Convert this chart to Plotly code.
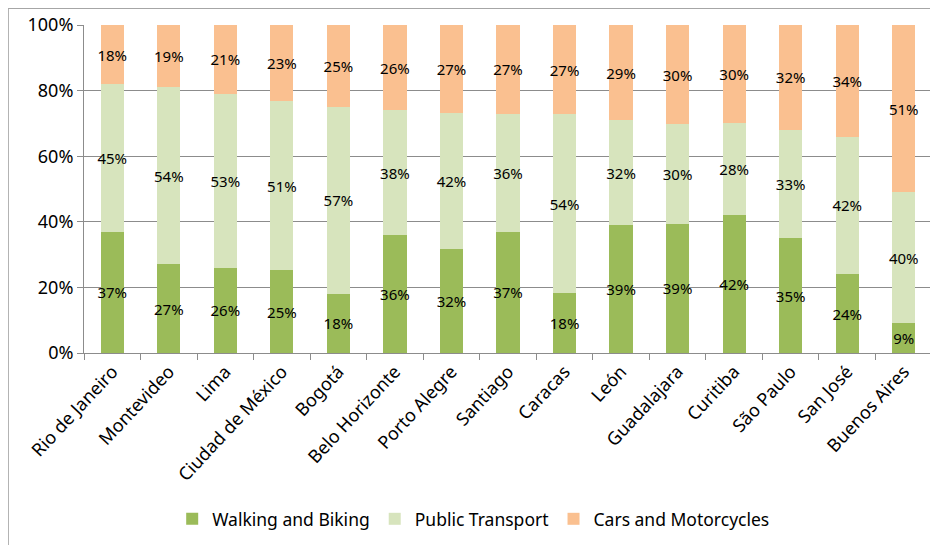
import plotly.graph_objects as go

# Mode share by city (percent labels as shown on the chart)
cities = ["Rio de Janeiro", "Montevideo", "Lima", "Ciudad de México", "Bogotá",
          "Belo Horizonte", "Porto Alegre", "Santiago", "Caracas", "León",
          "Guadalajara", "Curitiba", "São Paulo", "San José", "Buenos Aires"]
walking = [37, 27, 26, 25, 18, 36, 32, 37, 18, 39, 39, 42, 35, 24, 9]
public = [45, 54, 53, 51, 57, 38, 42, 36, 54, 32, 30, 28, 33, 42, 40]
cars = [18, 19, 21, 23, 25, 26, 27, 27, 27, 29, 30, 30, 32, 34, 51]

series = [
    ("Walking and Biking", walking, "#9BBB59"),
    ("Public Transport", public, "#D7E4BD"),
    ("Cars and Motorcycles", cars, "#FAC090"),
]

fig = go.Figure()
for name, vals, color in series:
    fig.add_trace(go.Bar(
        name=name, x=cities, y=vals, marker_color=color, marker_line_width=0,
        text=[f"{v}%" for v in vals], texttemplate="%{text}",
        textposition="inside", insidetextanchor="middle",
        textfont=dict(size=15, color="black"), textangle=0,
        hoverinfo="skip",
    ))

# page has an 8px body margin, so the figure is a bit smaller and shifted
fig.update_layout(
    barmode="stack",
    barnorm="percent",
    bargap=0.59,
    width=930, height=537,
    margin=dict(l=76, r=6, t=17, b=192, autoexpand=False),
    paper_bgcolor="white",
    plot_bgcolor="white",
    font=dict(family="Noto Sans, sans-serif", color="black"),
    uniformtext=dict(mode="show", minsize=15),
    showlegend=True,
    legend=dict(orientation="h", x=0.104, xanchor="left", y=-0.451, yanchor="top",
                font=dict(size=17.5), traceorder="normal", itemwidth=30,
                tracegroupgap=0),
    shapes=[
        dict(type="line", xref="paper", yref="paper", x0=-0.0895, x1=1.01,
             y0=1.051, y1=1.051, line=dict(color="#A6A6A6", width=1.5)),
        dict(type="line", xref="paper", yref="paper", x0=-0.0895, x1=-0.0895,
             y0=1.051, y1=-0.6, line=dict(color="#A6A6A6", width=1.5)),
    ],
)
fig.update_yaxes(
    range=[0, 100], dtick=20, ticksuffix="%",
    showgrid=True, gridcolor="#8C8C8C", gridwidth=1,
    showline=True, linecolor="#8C8C8C", ticks="outside", ticklen=6,
    tickcolor="#8C8C8C", tickfont=dict(size=18), zeroline=False,
    automargin=False,
)
fig.update_xaxes(
    tickangle=-47, tickfont=dict(size=18),
    showline=True, linecolor="#8C8C8C", ticks="outside", ticklen=6,
    tickcolor="#8C8C8C", tickson="boundaries", automargin=False,
)

fig.write_html("out.html")
